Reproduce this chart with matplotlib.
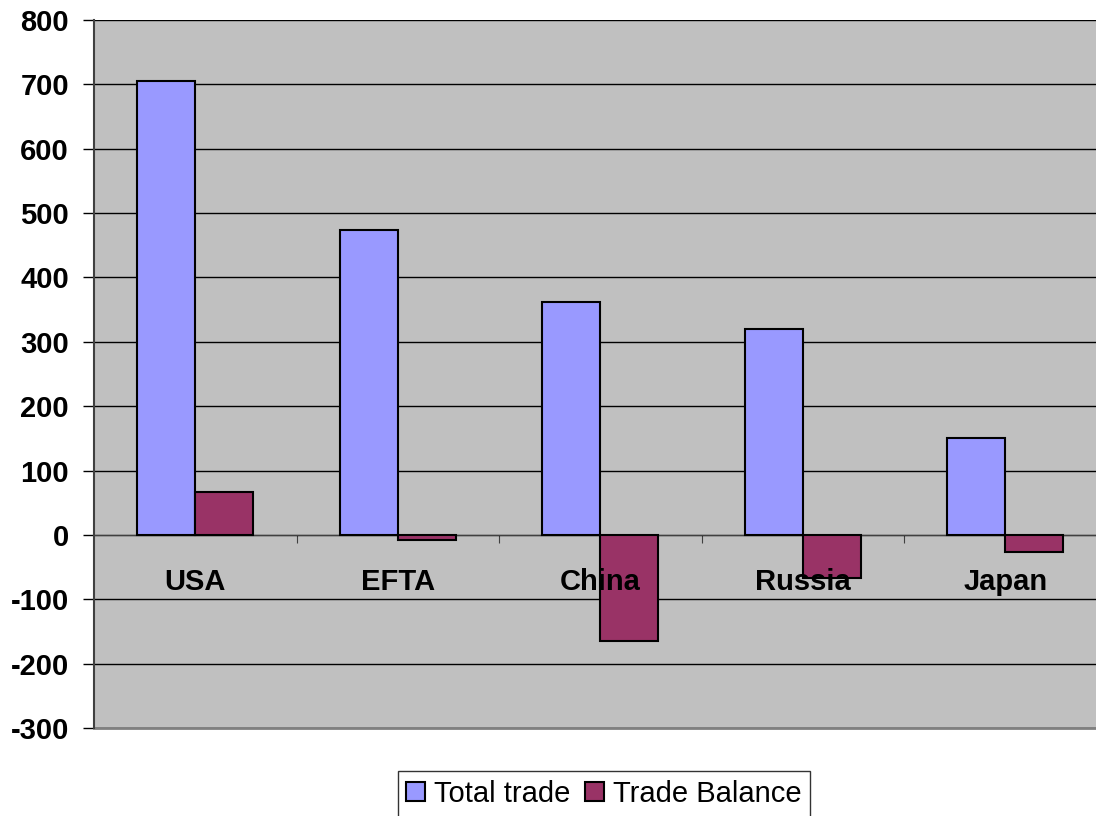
import numpy as np
import matplotlib
matplotlib.use("Agg")
import matplotlib.pyplot as plt

# data
countries = ["USA", "EFTA", "China", "Russia", "Japan"]
total_trade = [705, 474, 362, 320, 151]
trade_balance = [67, -8, -165, -67, -26]

plt.rcParams['font.family'] = ['Liberation Sans', 'DejaVu Sans']
plt.rcParams['axes.unicode_minus'] = False

fig = plt.figure(figsize=(10.96, 8.16), dpi=100)
ax = fig.add_axes([94 / 1096, 1 - 728 / 816, 1012.5 / 1096, 708 / 816])
ax.set_facecolor('#C0C0C0')

x = np.arange(len(countries))
w = 1 / 3.5
ax.bar(x - w / 2, total_trade, w, color='#9999FF', edgecolor='black', linewidth=1.5,
       label='Total trade', zorder=3)
ax.bar(x + w / 2, trade_balance, w, color='#993366', edgecolor='black', linewidth=1.5,
       label='Trade Balance', zorder=3)

ax.set_xlim(-0.5, len(countries) - 0.5)
ax.set_ylim(-300, 800)
ax.set_yticks(np.arange(-300, 801, 100))
ax.yaxis.grid(True, color='black', linewidth=1, zorder=1)
ax.tick_params(axis='y', length=8, width=1, labelsize=21, pad=10)
for lab in ax.get_yticklabels():
    lab.set_fontweight('bold')

# x axis sits at zero, ticks between categories
ax.spines['bottom'].set_position(('data', 0))
ax.spines['bottom'].set_color('#404040')
ax.set_xticks(np.arange(0.5, len(countries) - 0.5, 1))
ax.set_xticklabels([])
ax.tick_params(axis='x', which='major', direction='out', length=6, color='#404040')

# category names drawn on top of the bars
for xi, name in zip(x, countries):
    ax.text(xi, -73, name, ha='center', va='center', fontsize=21, fontweight='bold',
            zorder=5)

ax.spines['left'].set_color('#404040')
ax.spines['left'].set_linewidth(1.5)
ax.spines['top'].set_visible(False)
ax.spines['right'].set_visible(False)
# gray line at the bottom of the plot area
ax.axhline(-300, color='#808080', linewidth=2, zorder=2, clip_on=False)

leg = fig.legend(loc='upper center', bbox_to_anchor=(0.551, 1 - 771 / 816), ncol=2,
                 fontsize=21, frameon=True, fancybox=False, edgecolor='black',
                 handlelength=0.65, handleheight=0.65, handletextpad=0.3,
                 columnspacing=0.5, borderpad=0.3, borderaxespad=0)
leg.get_frame().set_linewidth(1)

fig.savefig('out.png', dpi=100, facecolor='white')
